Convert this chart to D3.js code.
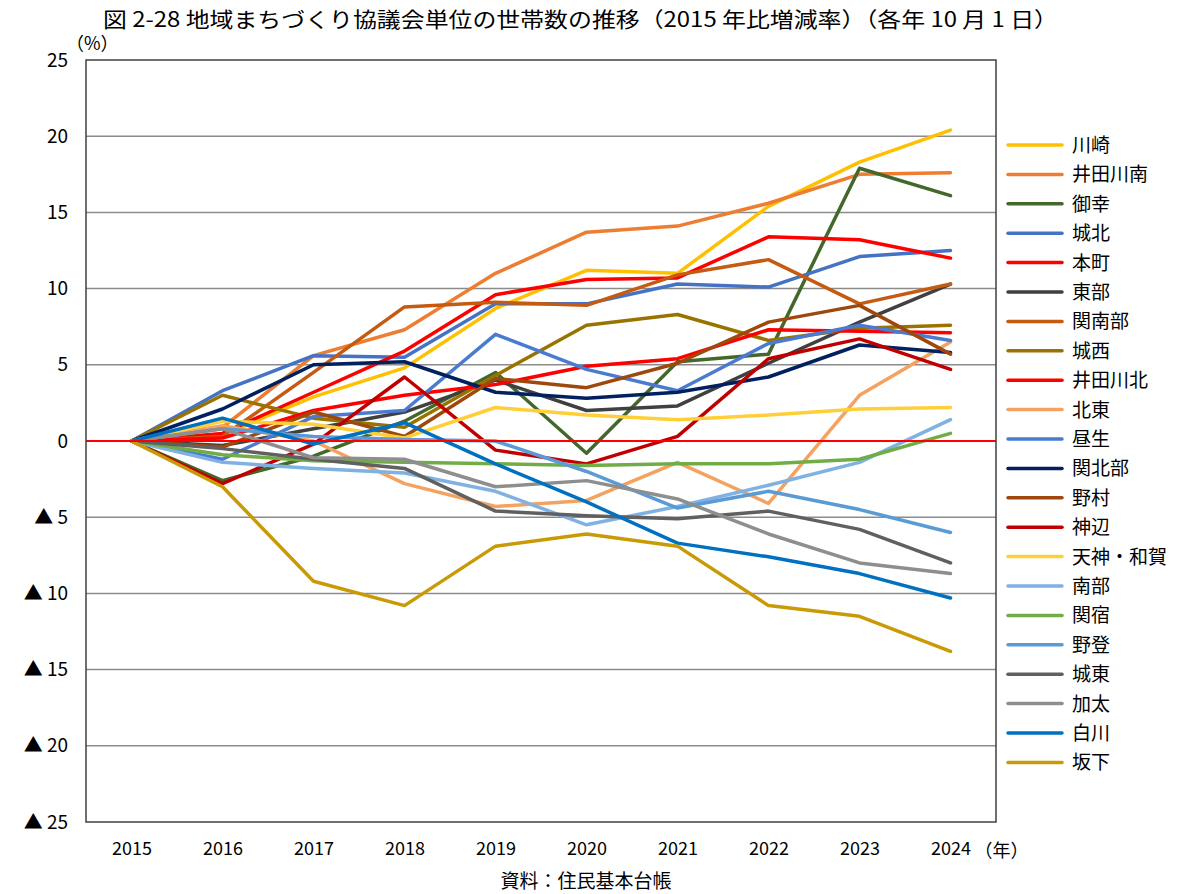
<!DOCTYPE html>
<html>
<head>
<meta charset="utf-8">
<script src="https://cdn.jsdelivr.net/npm/d3@7"></script>
<style>
  body { margin: 0; background: #fff; }
  text { font-family: "Noto Sans CJK JP", "Noto Sans", sans-serif; fill: #000; }
</style>
</head>
<body>
<svg id="chart" width="1182" height="894"></svg>
<script>
// 年
const years = ['2015', '2016', '2017', '2018', '2019', '2020', '2021', '2022', '2023', '2024'];
const yTicks = [25, 20, 15, 10, 5, 0, -5, -10, -15, -20, -25];

// 地区名と色
const names = ['川崎', '井田川南', '御幸', '城北', '本町', '東部', '関南部', '城西', '井田川北', '北東', '昼生',
               '関北部', '野村', '神辺', '天神・和賀', '南部', '関宿', '野登', '城東', '加太', '白川', '坂下'];
const colors = ['#FFC000', '#ED7D31', '#43682B', '#4472C4', '#FF0000', '#404040', '#C55A11', '#997300', '#FF0000', '#F4A261', '#4A7BD0',
                '#002060', '#9E480E', '#C00000', '#FFCF3A', '#7FB2E2', '#70AD47', '#5B9BD5', '#606060', '#8E8E8E', '#0070C0', '#C99A06'];

// 2015年比増減率（%）
const kawasaki   = [0, 0.4, 2.9, 4.8, 8.7, 11.2, 11.0, 15.4, 18.3, 20.4];
const idagawaS   = [0, 0.9, 5.6, 7.3, 11.0, 13.7, 14.1, 15.6, 17.5, 17.6];
const miyuki     = [0, -2.6, -1.0, 1.3, 4.5, -0.8, 5.2, 5.7, 17.9, 16.1];
const johoku     = [0, 3.3, 5.6, 5.5, 9.0, 9.0, 10.3, 10.1, 12.1, 12.5];
const honmachi   = [0, 0.5, 3.2, 5.9, 9.6, 10.6, 10.7, 13.4, 13.2, 12.0];
const tobu       = [0, -0.3, 0.8, 1.9, 4.0, 2.0, 2.3, 5.1, 7.8, 10.3];
const sekiNanbu  = [0, 0.3, 4.5, 8.8, 9.1, 8.9, 10.9, 11.9, 9.0, 10.3];
const josei      = [0, 3.0, 1.5, 0.9, 4.3, 7.6, 8.3, 6.6, 7.4, 7.6];
const idagawaN   = [0, 0.2, 2.0, 3.0, 3.7, 4.9, 5.4, 7.3, 7.2, 7.1];
const hokuto     = [0, 1.0, 0.0, -2.8, -4.3, -3.9, -1.4, -4.1, 3.0, 6.5];
const hiruo      = [0, -1.2, 1.6, 2.0, 7.0, 4.7, 3.3, 6.4, 7.6, 6.6];
const sekiHokubu = [0, 2.1, 5.0, 5.2, 3.2, 2.8, 3.2, 4.2, 6.3, 5.8];
const nomura     = [0, -0.4, 1.9, 0.3, 4.1, 3.5, 5.1, 7.8, 8.9, 5.7];
const kanbe      = [0, -2.8, -0.2, 4.2, -0.6, -1.5, 0.3, 5.4, 6.7, 4.7];
const tenjin     = [0, 1.3, 1.1, 0.2, 2.2, 1.7, 1.4, 1.7, 2.1, 2.2];
const nanbu      = [0, -1.4, -1.8, -2.1, -3.3, -5.5, -4.3, -2.9, -1.4, 1.4];
const sekijuku   = [0, -0.9, -1.3, -1.4, -1.5, -1.6, -1.5, -1.5, -1.2, 0.5];
const noto       = [0, 0.8, 0.3, 0.1, 0.0, -2.0, -4.4, -3.3, -4.5, -6.0];
const joto       = [0, -0.5, -1.2, -1.8, -4.6, -4.9, -5.1, -4.6, -5.8, -8.0];
const kabuto     = [0, 0.8, -1.1, -1.2, -3.0, -2.6, -3.8, -6.1, -8.0, -8.7];
const shirakawa  = [0, 1.5, -0.2, 1.2, -1.5, -4.0, -6.7, -7.6, -8.7, -10.3];
const sakashita  = [0, -3.0, -9.2, -10.8, -6.9, -6.1, -6.9, -10.8, -11.5, -13.8];

const values = [kawasaki, idagawaS, miyuki, johoku, honmachi, tobu, sekiNanbu, josei, idagawaN, hokuto, hiruo,
                sekiHokubu, nomura, kanbe, tenjin, nanbu, sekijuku, noto, joto, kabuto, shirakawa, sakashita];

const series = names.map(function(n, i) {
    return {name: n, color: colors[i], values: values[i]};
});

const plot = {left: 86, right: 996, top: 60, bottom: 822};
const svg = d3.select('#chart');

const x = d3.scalePoint()
    .domain(years)
    .range([plot.left, plot.right])
    .padding(0.5);

const y = d3.scaleLinear()
    .domain([-25, 25])
    .range([plot.bottom, plot.top]);

// タイトル
svg.append('text')
    .attr('x', 103)
    .attr('y', 27)
    .attr('textLength', 955)
    .attr('lengthAdjust', 'spacingAndGlyphs')
    .style('font-size', '21px')
    .text('図 2-28 地域まちづくり協議会単位の世帯数の推移（2015 年比増減率）（各年 10 月 1 日）');

svg.append('text')
    .attr('x', 66)
    .attr('y', 50)
    .style('font-size', '18px')
    .text('（%）');

// グリッド線
svg.append('g')
    .selectAll('line')
    .data(yTicks.filter(function(d) { return d != 0 && d != 25 && d != -25; }))
    .enter().append('line')
    .attr('x1', plot.left)
    .attr('x2', plot.right)
    .attr('y1', function(d) { return y(d); })
    .attr('y2', function(d) { return y(d); })
    .style('stroke', '#8C8C8C')
    .style('stroke-width', 1.5);

// 目盛りラベル
const yAxis = d3.axisLeft(y)
    .tickValues(yTicks)
    .tickSize(0)
    .tickPadding(18)
    .tickFormat(function(d) { return d < 0 ? '▲ ' + (-d) : d; });

const yG = svg.append('g')
    .attr('transform', 'translate(' + plot.left + ',0)')
    .call(yAxis);
yG.select('.domain').remove();
yG.selectAll('text')
    .style('font-size', '19px')
    .style('font-family', '"Noto Sans CJK JP", sans-serif');

const xAxis = d3.axisBottom(x)
    .tickSize(0)
    .tickPadding(20);

const xG = svg.append('g')
    .attr('transform', 'translate(0,' + plot.bottom + ')')
    .call(xAxis);
xG.select('.domain').remove();
xG.selectAll('text')
    .style('font-size', '18px')
    .style('font-family', '"Noto Sans CJK JP", sans-serif');

svg.append('text')
    .attr('x', x('2024') + 24)
    .attr('y', 857)
    .style('font-size', '18px')
    .text('（年）');

// 系列線
const line = d3.line()
    .x(function(d, i) { return x(years[i]); })
    .y(function(d) { return y(d); });

svg.append('g')
    .selectAll('path')
    .data(series)
    .enter().append('path')
    .attr('d', function(d) { return line(d.values); })
    .style('fill', 'none')
    .style('stroke', function(d) { return d.color; })
    .style('stroke-width', 3.5)
    .style('stroke-linejoin', 'round')
    .style('stroke-linecap', 'round');

// 0 の線
svg.append('line')
    .attr('x1', plot.left)
    .attr('x2', plot.right)
    .attr('y1', y(0))
    .attr('y2', y(0))
    .style('stroke', '#FF0000')
    .style('stroke-width', 2);

// 枠
svg.append('rect')
    .attr('x', plot.left)
    .attr('y', plot.top)
    .attr('width', plot.right - plot.left)
    .attr('height', plot.bottom - plot.top)
    .style('fill', 'none')
    .style('stroke', '#404040')
    .style('stroke-width', 1.5);

// 凡例
const legend = svg.append('g')
    .attr('transform', 'translate(1008,145)');

const item = legend.selectAll('g')
    .data(series)
    .enter().append('g')
    .attr('transform', function(d, i) { return 'translate(0,' + (i * 29.4) + ')'; });

item.append('line')
    .attr('x1', 0)
    .attr('x2', 54)
    .style('stroke', function(d) { return d.color; })
    .style('stroke-width', 3.5)
    .style('stroke-linecap', 'round');

item.append('text')
    .attr('x', 64)
    .attr('y', 7)
    .style('font-size', '19px')
    .text(function(d) { return d.name; });

// 資料
svg.append('text')
    .attr('x', 586)
    .attr('y', 888)
    .attr('text-anchor', 'middle')
    .style('font-size', '19px')
    .text('資料：住民基本台帳');
</script>
</body>
</html>
